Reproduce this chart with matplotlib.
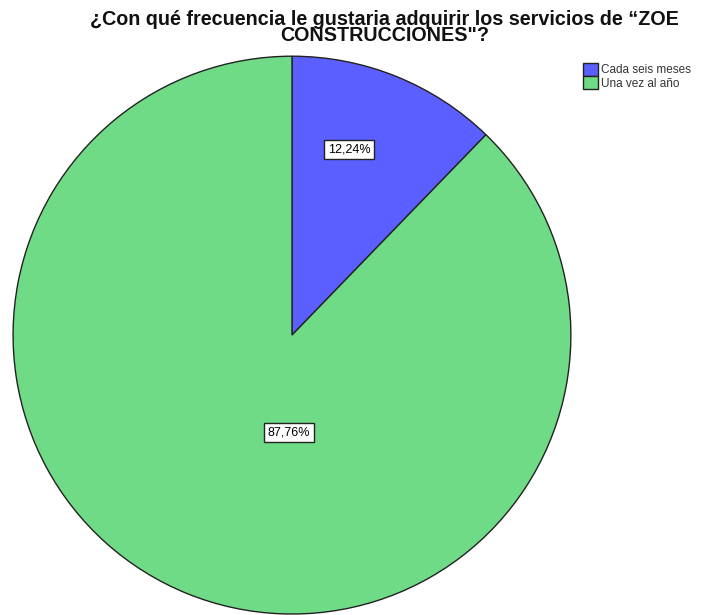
import matplotlib.pyplot as plt

categories = ['Cada seis meses', 'Una vez al año']
percentages = [12.24, 87.76]
colors = ['#5b5fff', '#6fdb86']

title = '¿Con qué frecuencia le gustaria adquirir los servicios de \u201cZOE\nCONSTRUCCIONES"?'


def fmt_pct(p):
    return '{:.2f}%'.format(p).replace('.', ',')


def plot_figure(output_file):
    plt.rcParams['font.family'] = ['Liberation Sans', 'DejaVu Sans']
    fig = plt.figure(figsize=(7.05, 6.15), dpi=100)
    ax = fig.add_axes([0.0184, 0.0016, 0.7915, 0.907])

    wedges, _ = ax.pie(percentages, colors=colors, startangle=90, counterclock=False,
                       wedgeprops=dict(edgecolor='#222222', linewidth=1.0))
    ax.set_xlim(-1, 1)
    ax.set_ylim(-1, 1)
    ax.set_aspect('equal')
    ax.axis('off')

    # label spots inside the wedges, in units of the radius
    label_spots = [(0.205, 0.665), (-0.01, -0.35)]
    for p, (x, y) in zip(percentages, label_spots):
        ax.text(x, y, fmt_pct(p), ha='center', va='center', fontsize=9,
                bbox=dict(boxstyle='square,pad=0.3', facecolor='white',
                          edgecolor='#222222', linewidth=1.0))

    fig.text(0.546, 0.984, title, ha='center', va='top', fontsize=14.2,
             fontweight='bold', linespacing=0.8, color='#111111')

    fig.legend(wedges, categories, loc='upper left', bbox_to_anchor=(0.818, 0.907),
               frameon=False, fontsize=8.5, handlelength=1.3, handleheight=1.3,
               handletextpad=0.3, labelspacing=0.0, borderpad=0, labelcolor='#333333')

    plt.savefig(output_file)
    plt.close()


if __name__ == "__main__":
    plot_figure('out.png')
